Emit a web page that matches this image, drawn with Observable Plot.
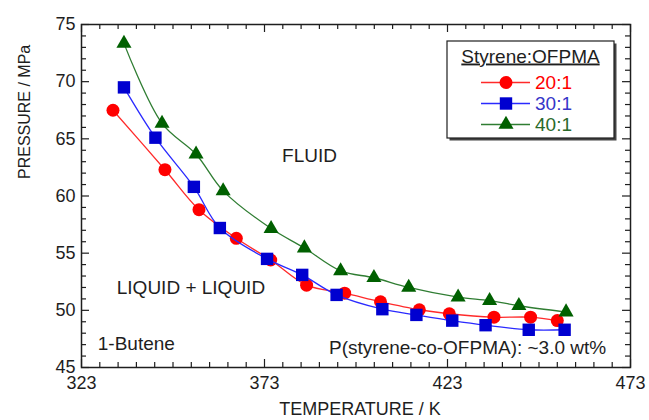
<!DOCTYPE html>
<html>
<head>
<meta charset="utf-8">
<script src="https://cdn.jsdelivr.net/npm/d3@7"></script>
<script src="https://cdn.jsdelivr.net/npm/@observablehq/plot@0.6"></script>
<style>
  html, body { margin: 0; padding: 0; background: #fff; }
  #chart { width: 649px; height: 420px; }
</style>
</head>
<body>
<div id="chart"></div>
<script>
// Cloud-point pressures of styrene-co-OFPMA in 1-butene, by monomer ratio
const seriesNames = ["20:1", "30:1", "40:1"];

const temp20 = [331.6, 345.8, 355.1, 365.3, 374.7, 384.5, 394.9, 404.7, 415.3, 423.5, 435.7, 445.7, 453.0];
const pres20 = [67.5, 62.3, 58.8, 56.3, 54.4, 52.2, 51.5, 50.75, 50.05, 49.7, 49.4, 49.4, 49.1];

const temp30 = [334.6, 343.2, 353.7, 360.8, 373.7, 383.3, 392.7, 405.2, 414.5, 424.3, 433.4, 445.2, 455.0];
const pres30 = [69.5, 65.1, 60.8, 57.2, 54.5, 53.1, 51.35, 50.1, 49.6, 49.1, 48.7, 48.3, 48.3];

const temp40 = [334.6, 345.0, 354.3, 361.7, 374.8, 383.9, 393.8, 402.9, 412.4, 425.9, 434.5, 442.5, 455.4];
const pres40 = [73.35, 66.35, 63.65, 60.45, 57.15, 55.45, 53.45, 52.85, 52.0, 51.15, 50.85, 50.4, 49.85];

// Axis ticks
const xTicks = [323, 373, 423, 473];
const yTicks = [45, 50, 55, 60, 65, 70, 75];

// Styling per series
const lineColors = ["#ff2a2a", "#2a2aff", "#2f7d32"];
const markColors = ["#ff0000", "#0000d0", "#006000"];
const textColors = ["#ff0000", "#3535c8", "#2a6a2a"];
const symbols = ["circle", "square", "triangle"];
const radii = [6.5, 7, 5.6];

const temps = [temp20, temp30, temp40];
const press = [pres20, pres30, pres40];
const rows = seriesNames.map((name, s) =>
  temps[s].map((t, i) => ({series: name, T: t, P: press[s][i]}))
);

const width = 649, height = 420;
const mL = 81, mR = 19, mT = 24, mB = 53;
const frameH = height - mT - mB;
const frameW = width - mL - mR;
const majorLen = 8, minorLen = 5;

const xMinor = d3.range(323, 474, 5).filter(v => !xTicks.includes(v));
const yMinor = d3.range(45, 76, 1).filter(v => !yTicks.includes(v));

const font = "'Liberation Sans', Arial, Helvetica, sans-serif";
const ink = "#1e1e1e";

const seriesMarks = rows.flatMap((data, s) => [
  Plot.line(data, {x: "T", y: "P", curve: "catmull-rom", stroke: lineColors[s], strokeWidth: 1.3}),
  Plot.dot(data, {x: "T", y: "P", symbol: symbols[s], r: radii[s], fill: markColors[s], stroke: "none"})
]);

const chart = Plot.plot({
  width, height,
  marginLeft: mL, marginRight: mR, marginTop: mT, marginBottom: mB,
  x: {domain: [323, 473]},
  y: {domain: [45, 75]},
  style: {fontFamily: font, fontSize: "18px", color: ink, background: "#fff", overflow: "visible"},
  marks: [
    // inward ticks on all four sides
    Plot.tickX(xTicks, {x: d => d, insetTop: frameH - majorLen, stroke: ink, strokeWidth: 1.2}),
    Plot.tickX(xTicks, {x: d => d, insetBottom: frameH - majorLen, stroke: ink, strokeWidth: 1.2}),
    Plot.tickX(xMinor, {x: d => d, insetTop: frameH - minorLen, stroke: ink, strokeWidth: 1.2}),
    Plot.tickX(xMinor, {x: d => d, insetBottom: frameH - minorLen, stroke: ink, strokeWidth: 1.2}),
    Plot.tickY(yTicks, {y: d => d, insetRight: frameW - majorLen, stroke: ink, strokeWidth: 1.2}),
    Plot.tickY(yTicks, {y: d => d, insetLeft: frameW - majorLen, stroke: ink, strokeWidth: 1.2}),
    Plot.tickY(yMinor, {y: d => d, insetRight: frameW - minorLen, stroke: ink, strokeWidth: 1.2}),
    Plot.tickY(yMinor, {y: d => d, insetLeft: frameW - minorLen, stroke: ink, strokeWidth: 1.2}),
    Plot.axisX(xTicks, {tickSize: 0, tickPadding: 9, label: null, fontSize: 18}),
    Plot.axisY(yTicks, {tickSize: 0, tickPadding: 6, label: null, fontSize: 18}),
    Plot.frame({stroke: ink, strokeWidth: 1.5}),
    // axis titles
    Plot.text(["TEMPERATURE / K"], {frameAnchor: "bottom", dx: 4, dy: 42, lineAnchor: "middle", fontSize: 18, fill: ink}),
    Plot.text(["PRESSURE / MPa"], {frameAnchor: "left", dx: -57, dy: -17, rotate: -90, lineAnchor: "middle", fontSize: 16, fill: ink}),
    // region annotations
    Plot.text(["FLUID"], {x: 385.3, y: 63.55, lineAnchor: "middle", fontSize: 19, fill: ink}),
    Plot.text(["LIQUID + LIQUID"], {x: 352.9, y: 51.95, lineAnchor: "middle", fontSize: 19, fill: ink}),
    Plot.text(["1-Butene"], {x: 327.45, y: 47.03, textAnchor: "start", lineAnchor: "middle", fontSize: 19, fill: ink}),
    Plot.text(["P(styrene-co-OFPMA): ~3.0 wt%"], {x: 428.5, y: 46.74, lineAnchor: "middle", fontSize: 19, fill: ink}),
    ...seriesMarks
  ]
});

// Legend box in the upper-right corner of the frame
const svg = d3.select(chart);
const boxW = 167, boxH = 97;
const boxX = width - mR - 16 - boxW;
const boxY = mT + 17;
const lg = svg.append("g").attr("font-family", font).attr("text-anchor", "start");
lg.append("rect").attr("x", boxX + 2.5).attr("y", boxY + 2.5).attr("width", boxW).attr("height", boxH).attr("fill", "#444");
lg.append("rect").attr("x", boxX).attr("y", boxY).attr("width", boxW).attr("height", boxH)
  .attr("fill", "#fff").attr("stroke", ink).attr("stroke-width", 1.2);
lg.append("text").attr("x", boxX + boxW / 2).attr("y", boxY + 21.5)
  .attr("text-anchor", "middle").attr("font-size", 19).attr("fill", ink)
  .style("text-decoration", "underline").text("Styrene:OFPMA");

seriesNames.forEach((name, s) => {
  const cy = boxY + 41.5 + s * 21;
  const cx = boxX + 59;
  lg.append("line").attr("x1", cx - 25).attr("x2", cx + 24).attr("y1", cy).attr("y2", cy)
    .attr("stroke", lineColors[s]).attr("stroke-width", 1.3);
  const symType = {circle: d3.symbolCircle, square: d3.symbolSquare, triangle: d3.symbolTriangle}[symbols[s]];
  lg.append("path").attr("transform", `translate(${cx},${cy})`)
    .attr("d", d3.symbol(symType, radii[s] * radii[s] * Math.PI)())
    .attr("fill", markColors[s]);
  lg.append("text").attr("x", cx + 29).attr("y", cy).attr("dy", "0.35em")
    .attr("text-anchor", "start")
    .attr("font-size", 19).attr("fill", textColors[s]).text(name);
});

document.getElementById("chart").appendChild(chart);
</script>
</body>
</html>
